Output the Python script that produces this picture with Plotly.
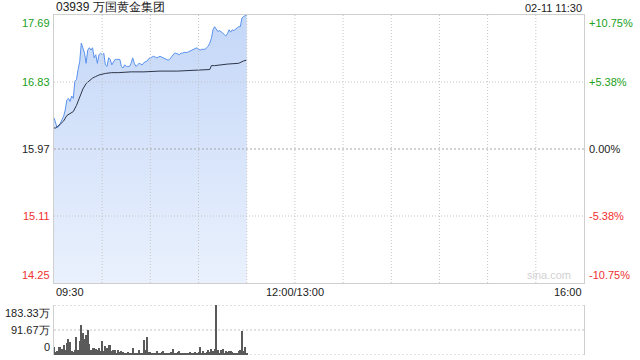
import plotly.graph_objects as go

# ---------------- data ----------------
title_text = "03939 万国黄金集团"
stamp_text = "02-11 11:30"
prev_close = 15.97
price_ticks = [17.69, 16.83, 15.97, 15.11, 14.25]
pct_labels = ["+10.75%", "+5.38%", "0.00%", "-5.38%", "-10.75%"]
time_ticks = [0, 150, 330]
time_labels = ["09:30", "12:00/13:00", "16:00"]
vol_ticks = [183.33, 91.67, 0]
vol_labels = ["183.33万", "91.67万", "0"]
session_minutes = 330
grid_minutes = [30, 60, 90, 120, 150, 180, 210, 240, 270, 300]

price = [
    16.37, 16.30, 16.24, 16.26, 16.30, 16.33, 16.39, 16.47, 16.60, 16.62,
    16.58, 16.65, 16.62, 16.84, 16.86, 16.99, 17.09, 17.33, 17.27, 17.20,
    17.07, 17.24, 17.27, 17.24, 17.27, 17.14, 17.18, 17.07, 17.18, 17.20,
    17.18, 17.20, 17.05, 17.03, 17.14, 17.12, 17.05, 17.09, 17.12, 17.12,
    17.12, 17.12, 17.03, 17.01, 17.05, 17.03, 17.03, 17.03, 17.07, 17.14,
    17.07, 17.03, 17.05, 17.07, 17.06, 17.05, 17.08, 17.09, 17.10, 17.13,
    17.14, 17.15, 17.16, 17.15, 17.14, 17.15, 17.16, 17.15, 17.14, 17.12,
    17.12, 17.11, 17.12, 17.15, 17.18, 17.20, 17.20, 17.19, 17.18, 17.20,
    17.20, 17.21, 17.21, 17.21, 17.22, 17.23, 17.24, 17.25, 17.26, 17.27,
    17.25, 17.24, 17.25, 17.25, 17.25, 17.27, 17.29, 17.33, 17.39, 17.50,
    17.54, 17.51, 17.48, 17.49, 17.48, 17.46, 17.44, 17.42, 17.45, 17.50,
    17.47, 17.50, 17.49, 17.51, 17.52, 17.54, 17.54, 17.65, 17.67, 17.68,
    17.69,
]

avg_minutes = [0, 1, 4, 6, 8, 10, 12, 14, 16, 18, 20, 22, 24, 26, 28, 32, 36,
               40, 48, 56, 66, 77, 88, 97, 98, 100, 108, 115, 118, 120]
avg_price = [16.24, 16.24, 16.29, 16.33, 16.40, 16.43, 16.45, 16.53, 16.64,
             16.74, 16.81, 16.85, 16.88, 16.90, 16.92, 16.94, 16.95, 16.95,
             16.96, 16.96, 16.97, 16.97, 16.98, 16.99, 17.04, 17.04, 17.06,
             17.07, 17.10, 17.11]

volume = [  # 万股
    28, 12, 16, 28, 31, 22, 35, 20, 45, 57,
    48, 14, 12, 18, 67, 20, 53, 110, 80, 60,
    72, 92, 42, 20, 24, 24, 22, 18, 24, 16,
    53, 16, 33, 24, 37, 37, 14, 18, 20, 9,
    18, 12, 16, 12, 9, 9, 12, 6, 9, 24,
    9, 6, 9, 20, 6, 9, 55, 18, 67, 12,
    11, 6, 6, 9, 15, 9, 6, 11, 15, 6,
    4, 6, 9, 12, 21, 9, 6, 11, 15, 6,
    9, 6, 9, 6, 9, 11, 9, 6, 11, 9,
    11, 31, 9, 15, 6, 11, 18, 11, 21, 16,
    21, 183, 18, 9, 18, 23, 9, 16, 11, 15,
    15, 11, 6, 9, 9, 16, 18, 89, 16, 28,
    6,
]

minutes = list(range(len(price)))

# ---------------- style ----------------
FONT = "Arial, Liberation Sans, Helvetica, sans-serif"
GREEN = "#20a020"
RED = "#f03030"
DARK = "#222222"
GRID = "#c4c4c4"
label_colors = [GREEN, GREEN, DARK, RED, RED]

fig = go.Figure()

# baseline for gradient fill
fig.add_trace(go.Scatter(
    x=minutes, y=[price_ticks[-1]] * len(minutes), mode="lines",
    line=dict(width=0), hoverinfo="skip", showlegend=False,
    xaxis="x", yaxis="y"))
fig.add_trace(go.Scatter(
    x=minutes, y=price, mode="lines",
    line=dict(color="#5a92ee", width=1),
    fill="tonexty",
    fillgradient=dict(type="vertical",
                      colorscale=[[0, "rgba(234,241,253,1)"],
                                  [1, "rgba(196,215,248,1)"]]),
    showlegend=False, xaxis="x", yaxis="y"))
fig.add_trace(go.Scatter(
    x=avg_minutes, y=avg_price, mode="lines",
    line=dict(color="#2e3548", width=1),
    showlegend=False, xaxis="x", yaxis="y"))
fig.add_trace(go.Bar(
    x=minutes, y=volume, width=0.65,
    marker=dict(color="#5a5a5a", line=dict(width=0)),
    showlegend=False, xaxis="x2", yaxis="y2"))

price_dom = [0.2118, 1.0]
vol_dom = [0.0, 0.147]

fig.update_layout(
    width=640, height=360,
    margin=dict(l=54, r=56, t=15, b=5),
    paper_bgcolor="white", plot_bgcolor="rgba(0,0,0,0)",
    font=dict(family=FONT, size=11, color=DARK),
    bargap=0,
    xaxis=dict(domain=[0, 1], range=[0, session_minutes],
               showticklabels=False, ticks="", showgrid=False,
               showline=True, linecolor="#cfcfcf", linewidth=1, mirror=True,
               zeroline=False, anchor="y"),
    yaxis=dict(domain=price_dom, range=[price_ticks[-1], price_ticks[0]],
               showticklabels=False, ticks="", showgrid=False,
               showline=True, linecolor="#cfcfcf", linewidth=1, mirror=True,
               zeroline=False, anchor="x"),
    xaxis2=dict(domain=[0, 1], range=[0, session_minutes],
                showticklabels=False, ticks="", showgrid=False,
                showline=False, zeroline=False, anchor="y2"),
    yaxis2=dict(domain=vol_dom, range=[0, vol_ticks[0]],
                showticklabels=False, ticks="", showgrid=False,
                showline=True, linecolor="#cfcfcf", linewidth=1, mirror=True,
                zeroline=False, anchor="x2"),
)

shapes = []
for m in grid_minutes:
    shapes.append(dict(type="line", xref="x", yref="y domain",
                       x0=m, x1=m, y0=0, y1=1,
                       line=dict(color=GRID, width=1, dash="1px,2px"),
                       layer="above"))
for v in price_ticks[1:-1]:
    is_mid = abs(v - prev_close) < 1e-9
    shapes.append(dict(type="line", xref="x domain", yref="y",
                       x0=0, x1=1, y0=v, y1=v,
                       line=dict(color="#a8a8a8" if is_mid else GRID, width=1,
                                 dash="2px,2px" if is_mid else "1px,2px"),
                       layer="above"))
for v in vol_ticks:
    shapes.append(dict(type="line", xref="x2 domain", yref="y2",
                       x0=0, x1=1, y0=v, y1=v,
                       line=dict(color=GRID, width=1, dash="2px,2px"),
                       layer="below"))
fig.update_layout(shapes=shapes)

ann = []
ann.append(dict(text=title_text, xref="paper", yref="paper", x=0, y=1,
                xanchor="left", yanchor="bottom", yshift=-1, showarrow=False,
                font=dict(size=12, color=DARK)))
ann.append(dict(text=stamp_text, xref="paper", yref="paper", x=1, y=1,
                xanchor="right", yanchor="bottom", yshift=-1, showarrow=False,
                font=dict(size=11, color=DARK)))
n = len(price_ticks)
for i, (v, pl, c) in enumerate(zip(price_ticks, pct_labels, label_colors)):
    ya = "top" if i == 0 else ("bottom" if i == n - 1 else "middle")
    ann.append(dict(text=f"{v:.2f}", xref="paper", yref="y", x=0, y=v,
                    xanchor="right", yanchor=ya, xshift=-2, showarrow=False,
                    font=dict(size=11, color=c)))
    ann.append(dict(text=pl, xref="paper", yref="y", x=1, y=v,
                    xanchor="left", yanchor=ya, xshift=3, showarrow=False,
                    font=dict(size=11, color=c)))
for t, lab in zip(time_ticks, time_labels):
    xa = "left" if t == 0 else ("right" if t == session_minutes else "center")
    ann.append(dict(text=lab, xref="x", yref="y", x=t, y=price_ticks[-1],
                    xanchor=xa, yanchor="top", yshift=-1, showarrow=False,
                    font=dict(size=11, color=DARK)))
for i, (v, lab) in enumerate(zip(vol_ticks, vol_labels)):
    ya = "top" if i == 0 else ("bottom" if i == len(vol_ticks) - 1 else "middle")
    ann.append(dict(text=lab, xref="paper", yref="y2", x=0, y=v,
                    xanchor="right", yanchor=ya, xshift=-2, showarrow=False,
                    font=dict(size=11, color=DARK)))
ann.append(dict(text="sina.com", xref="paper", yref="y", x=0.979,
                y=price_ticks[-1], xanchor="right", yanchor="bottom",
                yshift=0, showarrow=False,
                font=dict(size=11, color="#d2d2d2")))
fig.update_layout(annotations=ann)

fig.write_html("out.html")
